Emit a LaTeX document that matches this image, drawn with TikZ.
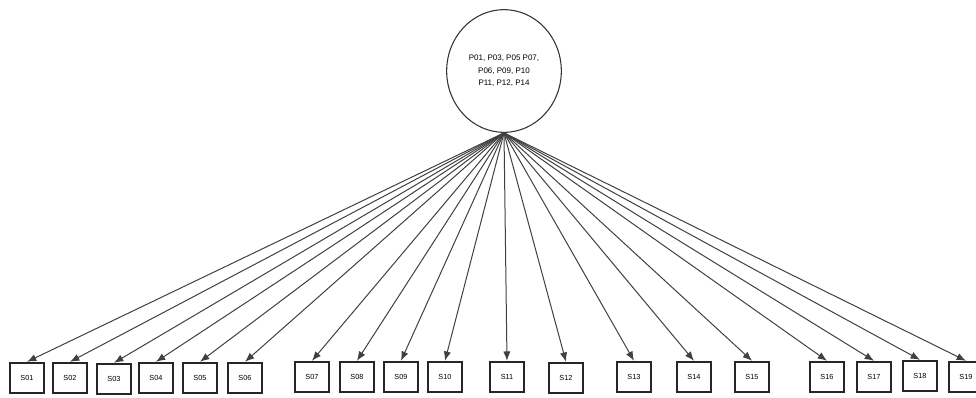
\documentclass[tikz,border=0pt]{standalone}
\usepackage{fontspec}
\setsansfont{Liberation Sans}
\usetikzlibrary{shapes.geometric,arrows.meta}

\tikzset{
  item/.style={draw=black!85, line width=1.3pt, fill=white, minimum width=25pt,
    minimum height=23pt, inner sep=0pt, font=\sffamily\fontsize{5.5}{6}\selectfont},
  factor/.style={draw=black!80, line width=0.8pt, ellipse, minimum width=86pt,
    minimum height=92pt, inner sep=0pt, align=center,
    font=\sffamily\fontsize{6}{9.5}\selectfont},
  load/.style={draw=black!75, line width=0.75pt, -{Latex[length=7pt,width=5.5pt]}}
}

\begin{document}
\begin{tikzpicture}[x=0.75pt, y=-0.75pt]
    \useasboundingbox (0,0) rectangle (976,397);

    % Latent factor (ellipse on top)
    \node[factor] (lv) at (504,71) {P01, P03, P05 P07,\\ P06, P09, P10\\ P11, P12, P14};

    % Observed items (bottom row)
    \node[item] (s01) at (27,378) {S01};
    \node[item] (s02) at (70,378) {S02};
    \node[item] (s03) at (114,379) {S03};
    \node[item] (s04) at (156,378) {S04};
    \node[item] (s05) at (200,378) {S05};
    \node[item] (s06) at (245,378) {S06};
    \node[item] (s07) at (312,377) {S07};
    \node[item] (s08) at (357,377) {S08};
    \node[item] (s09) at (401,377) {S09};
    \node[item] (s10) at (445,377) {S10};
    \node[item] (s11) at (507,377) {S11};
    \node[item] (s12) at (566,378) {S12};
    \node[item] (s13) at (634,377) {S13};
    \node[item] (s14) at (694,377) {S14};
    \node[item] (s15) at (752,377) {S15};
    \node[item] (s16) at (827,377) {S16};
    \node[item] (s17) at (874,377) {S17};
    \node[item] (s18) at (920,376) {S18};
    \node[item] (s19) at (966,377) {S19};

    % Loadings from the factor to every item
    \foreach \s in {s01,s02,s03,s04,s05,s06,s07,s08,s09,s10,s11,s12,s13,s14,s15,s16,s17,s18,s19}
      \draw[load] (lv.south) -- (\s.north);

  \end{tikzpicture}
\end{document}
